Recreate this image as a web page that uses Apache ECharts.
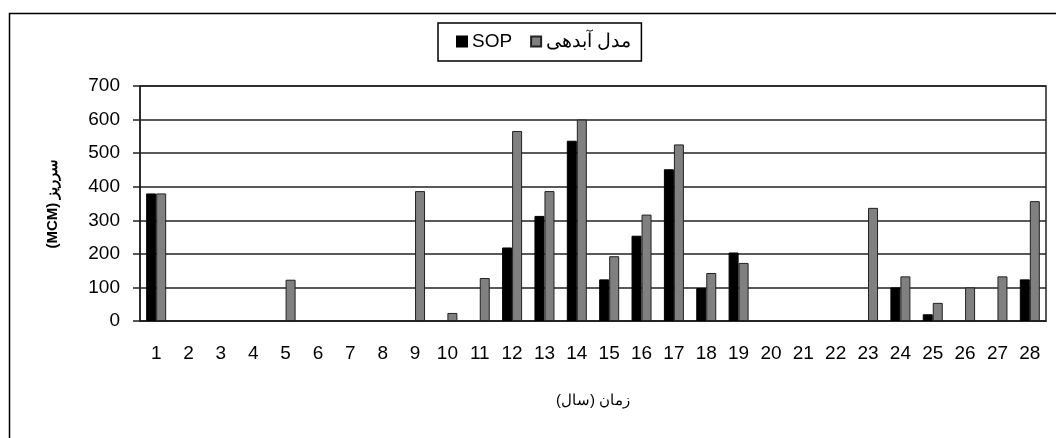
<!DOCTYPE html>
<html>
<head>
<meta charset="utf-8">
<script src="https://cdn.jsdelivr.net/npm/echarts@6/dist/echarts.min.js"></script>
<style>html,body{margin:0;padding:0;background:#fff}#c{width:1056px;height:438px}</style>
</head>
<body>
<div id="c"></div>
<script>
const categories = ['1','2','3','4','5','6','7','8','9','10','11','12','13','14','15','16','17','18','19','20','21','22','23','24','25','26','27','28'];
const sopValues = [380,0,0,0,0,0,0,0,0,0,0,219,313,537,124,254,452,98,204,0,0,0,0,100,20,0,0,124];
const modelValues = [380,0,0,0,123,0,0,0,387,24,128,566,387,600,193,317,526,143,173,0,0,0,337,133,54,100,133,357];
const yTicks = [0,100,200,300,400,500,600,700];
const seriesNames = ['SOP', 'مدل آبدهی'];
const yAxisTitle = '(MCM) سرریز';
const xAxisTitle = 'زمان (سال)';

const chart = echarts.init(document.getElementById('c'), null, {renderer:'canvas'});
const font = '"Liberation Sans", Arial, sans-serif';
const hideZero = arr => arr.map(v => (v === 0 ? null : v));
chart.setOption({
  animation: false,
  backgroundColor: '#fff',
  graphic: [{
    type: 'rect', left: 7, top: 11, shape: {width: 1200, height: 600},
    style: {fill: 'none', stroke: '#000', lineWidth: 1.5}, silent: true
  }],
  legend: {
    left: 438, top: 23,
    borderColor: '#000', borderWidth: 1.5,
    padding: [9, 10, 10, 18],
    itemWidth: 10, itemHeight: 10, itemGap: 18,
    textStyle: {fontFamily: font, fontSize: 19, color: '#000'},
    data: [
      {name: seriesNames[0], icon: 'rect'},
      {name: seriesNames[1], icon: 'rect'}
    ]
  },
  grid: {left: 140, right: 10, top: 86, bottom: 117, show: true, borderColor: '#222', borderWidth: 1.5, backgroundColor: 'transparent'},
  xAxis: {
    type: 'category', data: categories,
    name: xAxisTitle, nameLocation: 'middle', nameGap: 72,
    nameTextStyle: {fontFamily: font, fontSize: 15, color: '#000'},
    axisLine: {lineStyle: {color: '#222', width: 1.5}},
    axisTick: {show: false},
    axisLabel: {fontFamily: font, fontSize: 19, color: '#000', margin: 23}
  },
  yAxis: {
    type: 'value', min: 0, max: 700, interval: 100,
    name: yAxisTitle, nameLocation: 'middle', nameGap: 80, nameRotate: 90,
    nameTextStyle: {fontFamily: font, fontSize: 15, fontWeight: 'bold', color: '#000'},
    axisLine: {show: true, lineStyle: {color: '#222', width: 1.5}},
    axisTick: {show: true, length: 7, lineStyle: {color: '#222', width: 1.5}},
    axisLabel: {fontFamily: font, fontSize: 19, color: '#000', margin: 20,
      formatter: v => yTicks.includes(v) ? String(v) : ''},
    splitLine: {show: true, lineStyle: {color: '#222', width: 1.5}}
  },
  series: [
    {name: seriesNames[0], type: 'bar', data: hideZero(sopValues), barWidth: 10, barGap: '0%',
     itemStyle: {color: '#000', borderColor: '#000', borderWidth: 1}},
    {name: seriesNames[1], type: 'bar', data: hideZero(modelValues), barWidth: 10,
     itemStyle: {color: '#808080', borderColor: '#222', borderWidth: 1}}
  ]
});
</script>
</body>
</html>
